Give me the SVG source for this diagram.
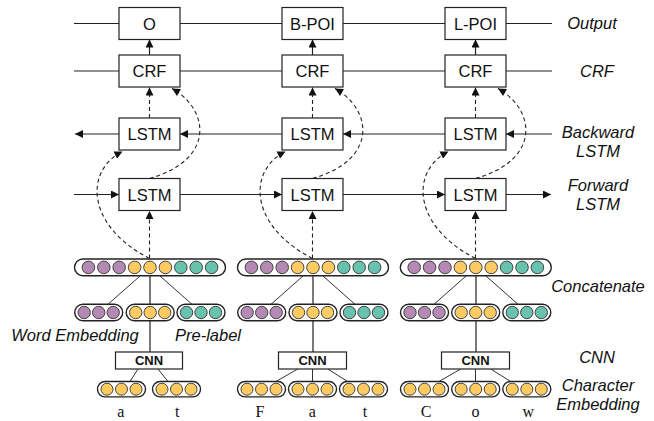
<svg xmlns="http://www.w3.org/2000/svg" width="654" height="421" viewBox="0 0 654 421">
<style>
.box{fill:#fff;stroke:#222;stroke-width:1.2}
.bt{font-family:"Liberation Sans",Arial,sans-serif;font-size:16.5px;fill:#111;text-anchor:middle}
.lab{font-family:"Liberation Sans",Arial,sans-serif;font-size:16.5px;font-style:italic;fill:#111;text-anchor:middle}
.ch{font-family:"Liberation Serif","Times New Roman",serif;font-size:16px;fill:#111;text-anchor:middle}
.cnn{font-family:"Liberation Sans",Arial,sans-serif;font-size:13px;font-weight:bold;fill:#111;text-anchor:middle}
.ln{stroke:#222;stroke-width:1.2;fill:none}
.thin{stroke:#333;stroke-width:1;fill:none}
.ar{stroke:#222;stroke-width:1.2;fill:none;marker-end:url(#ah)}
.da{stroke:#222;stroke-width:1.1;fill:none;stroke-dasharray:4 3;marker-end:url(#ah)}
.pill{fill:#fff;stroke:#222;stroke-width:1.4}
.p{fill:#b48ab4;stroke:#333;stroke-width:0.9}
.y{fill:#fdcb62;stroke:#333;stroke-width:0.9}
.g{fill:#67c2ae;stroke:#333;stroke-width:0.9}
</style>
<defs>
<marker id="ah" viewBox="0 0 10 10" refX="10" refY="5" markerUnits="userSpaceOnUse" markerWidth="9" markerHeight="8" orient="auto">
<path d="M0,0 L10,5 L0,10 z" fill="#111"/>
</marker>
<g id="p3y"><rect class="pill" x="-24" y="-7.7" width="48" height="15.4" rx="7.7"/><circle class="y" cx="-14.5" cy="0" r="6"/><circle class="y" cx="0" cy="0" r="6"/><circle class="y" cx="14.5" cy="0" r="6"/></g>
<g id="p3p"><rect class="pill" x="-24" y="-8.2" width="48" height="16.4" rx="8.2"/><circle class="p" cx="-14.5" cy="0" r="6.2"/><circle class="p" cx="0" cy="0" r="6.2"/><circle class="p" cx="14.5" cy="0" r="6.2"/></g>
<g id="p3yy"><rect class="pill" x="-24" y="-8.2" width="48" height="16.4" rx="8.2"/><circle class="y" cx="-14.5" cy="0" r="6.2"/><circle class="y" cx="0" cy="0" r="6.2"/><circle class="y" cx="14.5" cy="0" r="6.2"/></g>
<g id="p3g"><rect class="pill" x="-24" y="-8.2" width="48" height="16.4" rx="8.2"/><circle class="g" cx="-14.5" cy="0" r="6.2"/><circle class="g" cx="0" cy="0" r="6.2"/><circle class="g" cx="14.5" cy="0" r="6.2"/></g>
<g id="cat"><rect class="pill" x="-75.5" y="-8.4" width="151" height="16.8" rx="8.4"/>
<circle class="p" cx="-61.6" cy="0" r="6.3"/><circle class="p" cx="-46.2" cy="0" r="6.3"/><circle class="p" cx="-30.8" cy="0" r="6.3"/>
<circle class="y" cx="-15.4" cy="0" r="6.3"/><circle class="y" cx="0" cy="0" r="6.3"/><circle class="y" cx="15.4" cy="0" r="6.3"/>
<circle class="g" cx="30.8" cy="0" r="6.3"/><circle class="g" cx="46.2" cy="0" r="6.3"/><circle class="g" cx="61.6" cy="0" r="6.3"/></g>
</defs>
<rect width="654" height="421" fill="#fff"/>

<g id="connectors">
<path class="ln" d="M74 23.5H119 M180 23.5H282 M343 23.5H445 M506 23.5H552"/>
<path class="ln" d="M74 71H119 M180 71H282 M343 71H445 M506 71H552"/>
<line class="ar" x1="552" y1="134" x2="506" y2="134"/>
<line class="ar" x1="445" y1="134" x2="343" y2="134"/>
<line class="ar" x1="282" y1="134" x2="180" y2="134"/>
<line class="ar" x1="119" y1="134" x2="75" y2="134"/>
<line class="ar" x1="74" y1="194.5" x2="119" y2="194.5"/>
<line class="ar" x1="180" y1="194.5" x2="282" y2="194.5"/>
<line class="ar" x1="343" y1="194.5" x2="445" y2="194.5"/>
<line class="ar" x1="506" y1="194.5" x2="551" y2="194.5"/>
<line class="ar" x1="149.5" y1="55" x2="149.5" y2="39.5"/>
<line class="ar" x1="312.5" y1="55" x2="312.5" y2="39.5"/>
<line class="ar" x1="475.5" y1="55" x2="475.5" y2="39.5"/>
<line class="da" x1="149.5" y1="118" x2="149.5" y2="87.5"/>
<line class="da" x1="312.5" y1="118" x2="312.5" y2="87.5"/>
<line class="da" x1="475.5" y1="118" x2="475.5" y2="87.5"/>
<line class="da" x1="149.5" y1="258.5" x2="149.5" y2="211"/>
<line class="da" x1="312.5" y1="258.5" x2="312.5" y2="211"/>
<line class="da" x1="475.5" y1="258.5" x2="475.5" y2="211"/>
<path class="da" d="M149.5 178.5 C215 160 210 110 172 88.5"/>
<path class="da" d="M312.5 178.5 C378 160 373 110 335 88.5"/>
<path class="da" d="M475.5 178.5 C541 160 536 110 498 88.5"/>
<path class="da" d="M149.5 258.5 C85 225 85 170 122.5 151.5"/>
<path class="da" d="M312.5 258.5 C248 225 248 170 285.5 151.5"/>
<path class="da" d="M475.5 258.5 C411 225 411 170 448.5 151.5"/>
<path class="ln" d="M150 276V352 M313 276V352 M476 276V352"/>
<path class="thin" d="M140 276L108 304.3 M160 276L192 304.3 M303 276L271 304.3 M323 276L355 304.3 M466 276L434 304.3 M486 276L518 304.3"/>
<path class="thin" d="M138 369L130 381.5 M158 369L168 381.5"/>
<path class="thin" d="M297.7 369L276 381.5 M312.5 369V381.5 M327.7 369L347.7 381.5"/>
<path class="thin" d="M460.7 369L439 381.5 M475.5 369V381.5 M490.7 369L510.7 381.5"/>
</g>

<g id="col1">
<g id="out1"><rect class="box" x="119" y="7.5" width="61" height="32"/><text class="bt" x="149.5" y="29.5">O</text></g>
<g id="crf1"><rect class="box" x="119" y="55" width="61" height="32"/><text class="bt" x="149.5" y="77">CRF</text></g>
<g id="blstm1"><rect class="box" x="119" y="118" width="61" height="32"/><text class="bt" x="149.5" y="140">LSTM</text></g>
<g id="flstm1"><rect class="box" x="119" y="178.5" width="61" height="32"/><text class="bt" x="149.5" y="200.5">LSTM</text></g>
<g id="cat1"><use href="#cat" x="150" y="267.4"/></g>
<g id="sub1"><use href="#p3p" x="98.7" y="312.5"/><use href="#p3yy" x="150.2" y="312.5"/><use href="#p3g" x="201" y="312.5"/></g>
<g id="cnn1"><rect class="box" x="115.5" y="352" width="67" height="17"/><text class="cnn" x="149" y="365">CNN</text></g>
<g id="char1"><use href="#p3y" x="121.5" y="389.2"/><use href="#p3y" x="176.5" y="389.2"/>
<text class="ch" x="120.7" y="417">a</text><text class="ch" x="177.3" y="417">t</text></g>
</g>

<g id="col2">
<g id="out2"><rect class="box" x="282" y="7.5" width="61" height="32"/><text class="bt" x="312.5" y="29.5">B-POI</text></g>
<g id="crf2"><rect class="box" x="282" y="55" width="61" height="32"/><text class="bt" x="312.5" y="77">CRF</text></g>
<g id="blstm2"><rect class="box" x="282" y="118" width="61" height="32"/><text class="bt" x="312.5" y="140">LSTM</text></g>
<g id="flstm2"><rect class="box" x="282" y="178.5" width="61" height="32"/><text class="bt" x="312.5" y="200.5">LSTM</text></g>
<g id="cat2"><use href="#cat" x="313" y="267.4"/></g>
<g id="sub2"><use href="#p3p" x="261.7" y="312.5"/><use href="#p3yy" x="313" y="312.5"/><use href="#p3g" x="364" y="312.5"/></g>
<g id="cnn2"><rect class="box" x="278.5" y="352" width="68" height="17"/><text class="cnn" x="312.5" y="365">CNN</text></g>
<g id="char2"><use href="#p3y" x="261.5" y="389.2"/><use href="#p3y" x="312.5" y="389.2"/><use href="#p3y" x="363.5" y="389.2"/>
<text class="ch" x="260" y="417">F</text><text class="ch" x="312.3" y="417">a</text><text class="ch" x="365" y="417">t</text></g>
</g>

<g id="col3">
<g id="out3"><rect class="box" x="445" y="7.5" width="61" height="32"/><text class="bt" x="475.5" y="29.5">L-POI</text></g>
<g id="crf3"><rect class="box" x="445" y="55" width="61" height="32"/><text class="bt" x="475.5" y="77">CRF</text></g>
<g id="blstm3"><rect class="box" x="445" y="118" width="61" height="32"/><text class="bt" x="475.5" y="140">LSTM</text></g>
<g id="flstm3"><rect class="box" x="445" y="178.5" width="61" height="32"/><text class="bt" x="475.5" y="200.5">LSTM</text></g>
<g id="cat3"><use href="#cat" x="475.8" y="267.4"/></g>
<g id="sub3"><use href="#p3p" x="424.5" y="312.5"/><use href="#p3yy" x="475.7" y="312.5"/><use href="#p3g" x="526.8" y="312.5"/></g>
<g id="cnn3"><rect class="box" x="441.5" y="352" width="68" height="17"/><text class="cnn" x="475.5" y="365">CNN</text></g>
<g id="char3"><use href="#p3y" x="424.5" y="389.2"/><use href="#p3y" x="475.7" y="389.2"/><use href="#p3y" x="526.8" y="389.2"/>
<text class="ch" x="426" y="417">C</text><text class="ch" x="475.5" y="417">o</text><text class="ch" x="528.3" y="417">w</text></g>
</g>

<g id="labels">
<text class="lab" x="592" y="29">Output</text>
<text class="lab" x="597" y="76.5">CRF</text>
<text class="lab" x="598" y="138">Backward</text>
<text class="lab" x="598" y="156.5">LSTM</text>
<text class="lab" x="598" y="191">Forward</text>
<text class="lab" x="598" y="209.5">LSTM</text>
<text class="lab" x="598" y="292">Concatenate</text>
<text class="lab" x="597" y="362.5">CNN</text>
<text class="lab" x="598" y="391">Character</text>
<text class="lab" x="598" y="409.5">Embedding</text>
<text class="lab" x="75" y="340.5">Word Embedding</text>
<text class="lab" x="208" y="340.5">Pre-label</text>
</g>
</svg>
